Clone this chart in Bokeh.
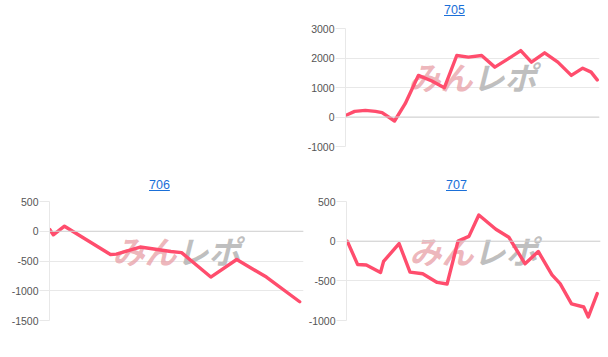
from bokeh.plotting import figure
from bokeh.models import Range1d, FixedTicker, Label, Div, Spacer, Span
from bokeh.layouts import column, row
from bokeh.embed import file_html
from bokeh.resources import INLINE

# ---------------- data ----------------
titles = ["705", "706", "707"]

x705 = [0, 3.6, 7.8, 11.8, 14.4, 19.3, 23.5, 28.7, 34.0, 38.9, 43.8, 48.4, 53.6,
        58.8, 64.0, 69.0, 73.2, 78.4, 83.6, 88.9, 93.4, 96.7, 99.1]
y705 = [50, 190, 225, 190, 150, -135, 450, 1410, 1220, 990, 2085, 2030, 2085,
        1690, 1970, 2250, 1860, 2175, 1860, 1410, 1655, 1520, 1260]

x706 = [0.1, 1.5, 5.9, 24.0, 26.3, 35.7, 47.8, 52.0, 63.5, 73.7, 85.4, 98.5]
y706 = [30, -60, 85, -390, -385, -265, -340, -360, -770, -475, -770, -1185]

x707 = [0.3, 4.4, 7.8, 13.4, 14.6, 20.7, 25.0, 30.0, 35.7, 39.6, 43.9, 48.2, 52.1,
        58.8, 63.9, 70.3, 75.5, 80.9, 84.1, 88.6, 93.4, 95.2, 98.7]
y707 = [0, -295, -300, -395, -255, -30, -390, -410, -520, -540, 0, 60, 330,
        150, 50, -285, -130, -425, -535, -790, -830, -955, -660]

ticks705 = [-1000, 0, 1000, 2000, 3000]
ticks706 = [-1500, -1000, -500, 0, 500]
ticks707 = [-1000, -500, 0, 500]

LINE = "#ff4d6d"
GRID = "#e8e8e8"
FONT = "Liberation Sans"


def title_div(text, pad_left, width):
    html = ('<div style="padding-left:%dpx;padding-top:3px;font-family:\'Liberation Sans\',Arial;'
            'font-size:12.5px;line-height:15px;white-space:nowrap;">'
            '<a style="color:#1a6fd8;text-decoration:underline;">%s</a></div>') % (pad_left, text)
    return Div(text=html, width=width, height=20, margin=(0, 0, 0, 0))


def panel(xs, ys, ticks, lo, hi, w, h, bl, br, bt, bb, wm_y):
    p = figure(width=w, height=h, output_backend="svg", toolbar_location=None,
               x_range=Range1d(0, 100), y_range=Range1d(lo, hi),
               min_border_left=bl, min_border_right=br, min_border_top=bt,
               min_border_bottom=bb, outline_line_color=None)
    p.xaxis.visible = False
    p.xgrid.visible = False
    p.ygrid.grid_line_color = GRID
    p.ygrid.grid_line_width = 1
    ax = p.yaxis[0]
    ax.ticker = FixedTicker(ticks=ticks)
    ax.major_label_overrides = {t: str(t) for t in ticks}
    ax.axis_line_color = GRID
    ax.major_tick_line_color = GRID
    ax.major_tick_out = 10
    ax.major_tick_in = 0
    ax.minor_tick_line_color = None
    ax.major_label_standoff = 1
    ax.major_label_text_font = FONT
    ax.major_label_text_font_size = "10.5px"
    ax.major_label_text_color = "#555555"
    p.add_layout(Span(location=0, dimension="width", line_color="#d2d2d2", line_width=1))
    # watermark logo
    p.add_layout(Label(x=50, y=wm_y, text="みん", text_align="right", text_baseline="middle",
                       text_font="Noto Sans CJK JP", text_font_style="bold italic",
                       text_font_size="32px", text_color="#e9a3aa", text_alpha=0.8,
                       level="underlay"))
    p.add_layout(Label(x=50, y=wm_y, text="レポ", text_align="left", text_baseline="middle",
                       text_font="Noto Sans CJK JP", text_font_style="bold italic",
                       text_font_size="32px", text_color="#b4b4b4", text_alpha=0.85,
                       level="underlay"))
    p.line(xs, ys, line_color=LINE, line_width=3.4, line_join="round", line_cap="round")
    return p


p705 = panel(x705, y705, ticks705, -1000, 3000, 304, 155, 40, 9, 8, 29, 1375)
p706 = panel(x706, y706, ticks706, -1500, 500, 304, 162, 49, 1, 6, 37, -322)
p707 = panel(x707, y707, ticks707, -1000, 500, 304, 162, 42, 8, 6, 37, -113)

c705 = column(title_div(titles[0], 140, 304), p705, spacing=0)
c706 = column(title_div(titles[1], 149, 304), p706, spacing=0)
c707 = column(title_div(titles[2], 142, 304), p707, spacing=0)

layout = column(row(Spacer(width=304, height=175), c705, spacing=0),
                row(c706, c707, spacing=0), spacing=0)

open("out.html", "w").write(file_html(layout, INLINE))
